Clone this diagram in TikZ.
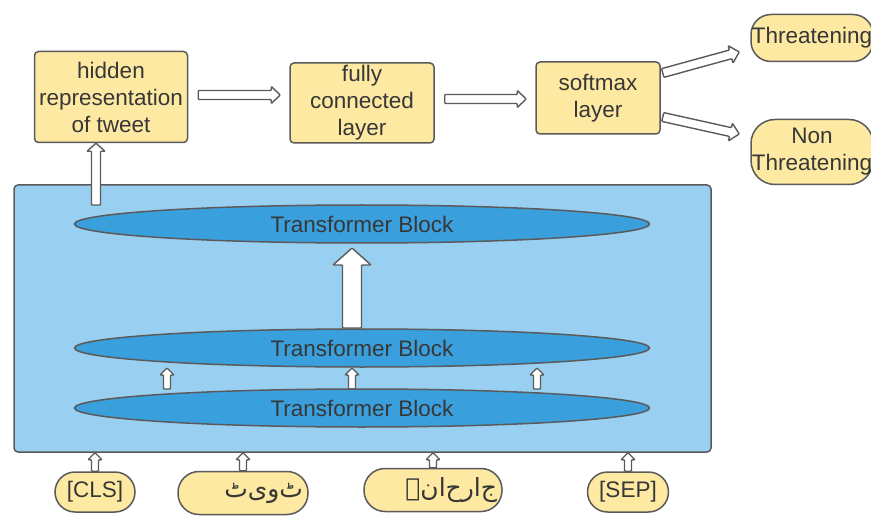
\documentclass[tikz,border=0pt]{standalone}
\usepackage{fontspec}
\setmainfont{Liberation Sans}
\newfontfamily\urdufont[Script=Arabic]{DejaVu Sans}
\TeXXeTstate=1
\usepackage{tikz}
\usetikzlibrary{calc,shapes.geometric}

\definecolor{boxyellow}{RGB}{253,233,162}
\definecolor{encblue}{RGB}{153,208,241}
\definecolor{blockblue}{RGB}{58,160,221}
\definecolor{edgegray}{RGB}{90,90,90}
\definecolor{textgray}{RGB}{55,55,55}

% block arrow: from, to, shaft half width, head half width, head length
\newcommand{\blockarrow}[5]{%
  \coordinate (ah) at ($(#2)!#5!(#1)$);
  \draw[arrowbody] ($(#1)!#3!90:(#2)$) -- ($(ah)!#3!-90:(#1)$) -- ($(ah)!#4!-90:(#1)$)
    -- (#2) -- ($(ah)!#4!90:(#1)$) -- ($(ah)!#3!90:(#1)$) -- ($(#1)!#3!-90:(#2)$) -- cycle;}

\begin{document}
\begin{tikzpicture}[x=1pt,y=-1pt,
  every node/.style={text=textgray, font=\fontsize{22.5}{27}\selectfont},
  box/.style={draw=edgegray, line width=1.5pt, fill=boxyellow, rounded corners=4pt, align=center, inner sep=0pt},
  pill/.style={draw=edgegray, line width=1.5pt, fill=boxyellow, rounded corners=20pt, align=center, inner sep=0pt},
  urdupill/.style={pill, rounded corners=21pt, minimum height=43pt, align=right, inner xsep=5pt, font=\fontsize{25}{27}\urdufont},
  block/.style={ellipse, draw=edgegray, line width=1.5pt, fill=blockblue, minimum width=575pt, minimum height=38pt, inner sep=0pt},
  arrowbody/.style={draw=edgegray, line width=1.4pt, fill=white, rounded corners=0.8pt}
]
\useasboundingbox (0,0) rectangle (871,516);

% top row
\node[box, minimum width=153pt, minimum height=91pt] (hidden) at (111,97) {hidden\\representation\\of tweet};
\node[box, minimum width=144pt, minimum height=80pt] (fc) at (362,103) {fully\\connected\\layer};
\node[box, minimum width=124pt, minimum height=72pt] (soft) at (598,98) {softmax\\layer};
\node[pill, minimum width=122pt, minimum height=47pt] (threat) at (812,38) {Threatening};
\node[pill, minimum width=122pt, minimum height=65pt, rounded corners=24pt] (nonthreat) at (812,152) {Non\\Threatening};

% encoder
\node[draw=edgegray, line width=1.5pt, fill=encblue, rounded corners=4pt, minimum width=697pt, minimum height=267pt] (enc) at (362.5,318.5) {};

\coordinate (up1) at (96,205);
\coordinate (up2) at (up1 |- hidden.south);
\blockarrow{up1}{up2}{4.5pt}{9pt}{8pt}

\foreach \x in {167,352,537}{
  \coordinate (m1) at (\x,389);
  \coordinate (m2) at (\x,368);
  \blockarrow{m1}{m2}{3.5pt}{7pt}{7pt}
}

\node[block] (tb3) at (362,224) {Transformer Block};
\node[block] (tb2) at (362,348) {Transformer Block};
\node[block] (tb1) at (362,408) {Transformer Block};

\coordinate (big1) at (352,328);
\coordinate (big2) at (352,248);
\blockarrow{big1}{big2}{9.5pt}{19pt}{17pt}

% inputs
\node[pill, minimum width=80pt, minimum height=40pt] (cls) at (95,492) {[CLS]};
\node[urdupill, text width=120pt] (tweet) at (243,493) {\beginR ٹ‌و‌ی‌ٹ\endR};
\node[urdupill, text width=128pt] (aggr) at (433,490) {\beginR ج‌ا‌ر‌ح‌ا‌ن‌ہ\endR};
\node[pill, minimum width=81pt, minimum height=40pt] (sep) at (628,492) {[SEP]};

\foreach \n in {cls,tweet,aggr,sep}{
  \coordinate (p1) at (\n.north);
  \coordinate (p2) at (\n.north |- enc.south);
  \blockarrow{p1}{p2}{3.5pt}{7pt}{7pt}
}

% classifier
\coordinate (h1) at ($(hidden.east)+(10,-2)$);
\coordinate (h2) at ($(fc.west)+(-9,-8)$);
\blockarrow{h1}{h2}{4.5pt}{8.5pt}{9pt}
\coordinate (f1) at ($(fc.east)+(10,-4)$);
\coordinate (f2) at ($(soft.west)+(-9,1)$);
\blockarrow{f1}{f2}{4.5pt}{8.5pt}{9pt}
\coordinate (s1) at ($(soft.east)+(2,-25)$);
\coordinate (s2) at ($(threat.west)+(-11,14)$);
\blockarrow{s1}{s2}{4.5pt}{9pt}{9pt}
\coordinate (n1) at ($(soft.east)+(2,19)$);
\coordinate (n2) at ($(nonthreat.west)+(-11,-18)$);
\blockarrow{n1}{n2}{4.5pt}{9pt}{9pt}
\end{tikzpicture}
\end{document}
